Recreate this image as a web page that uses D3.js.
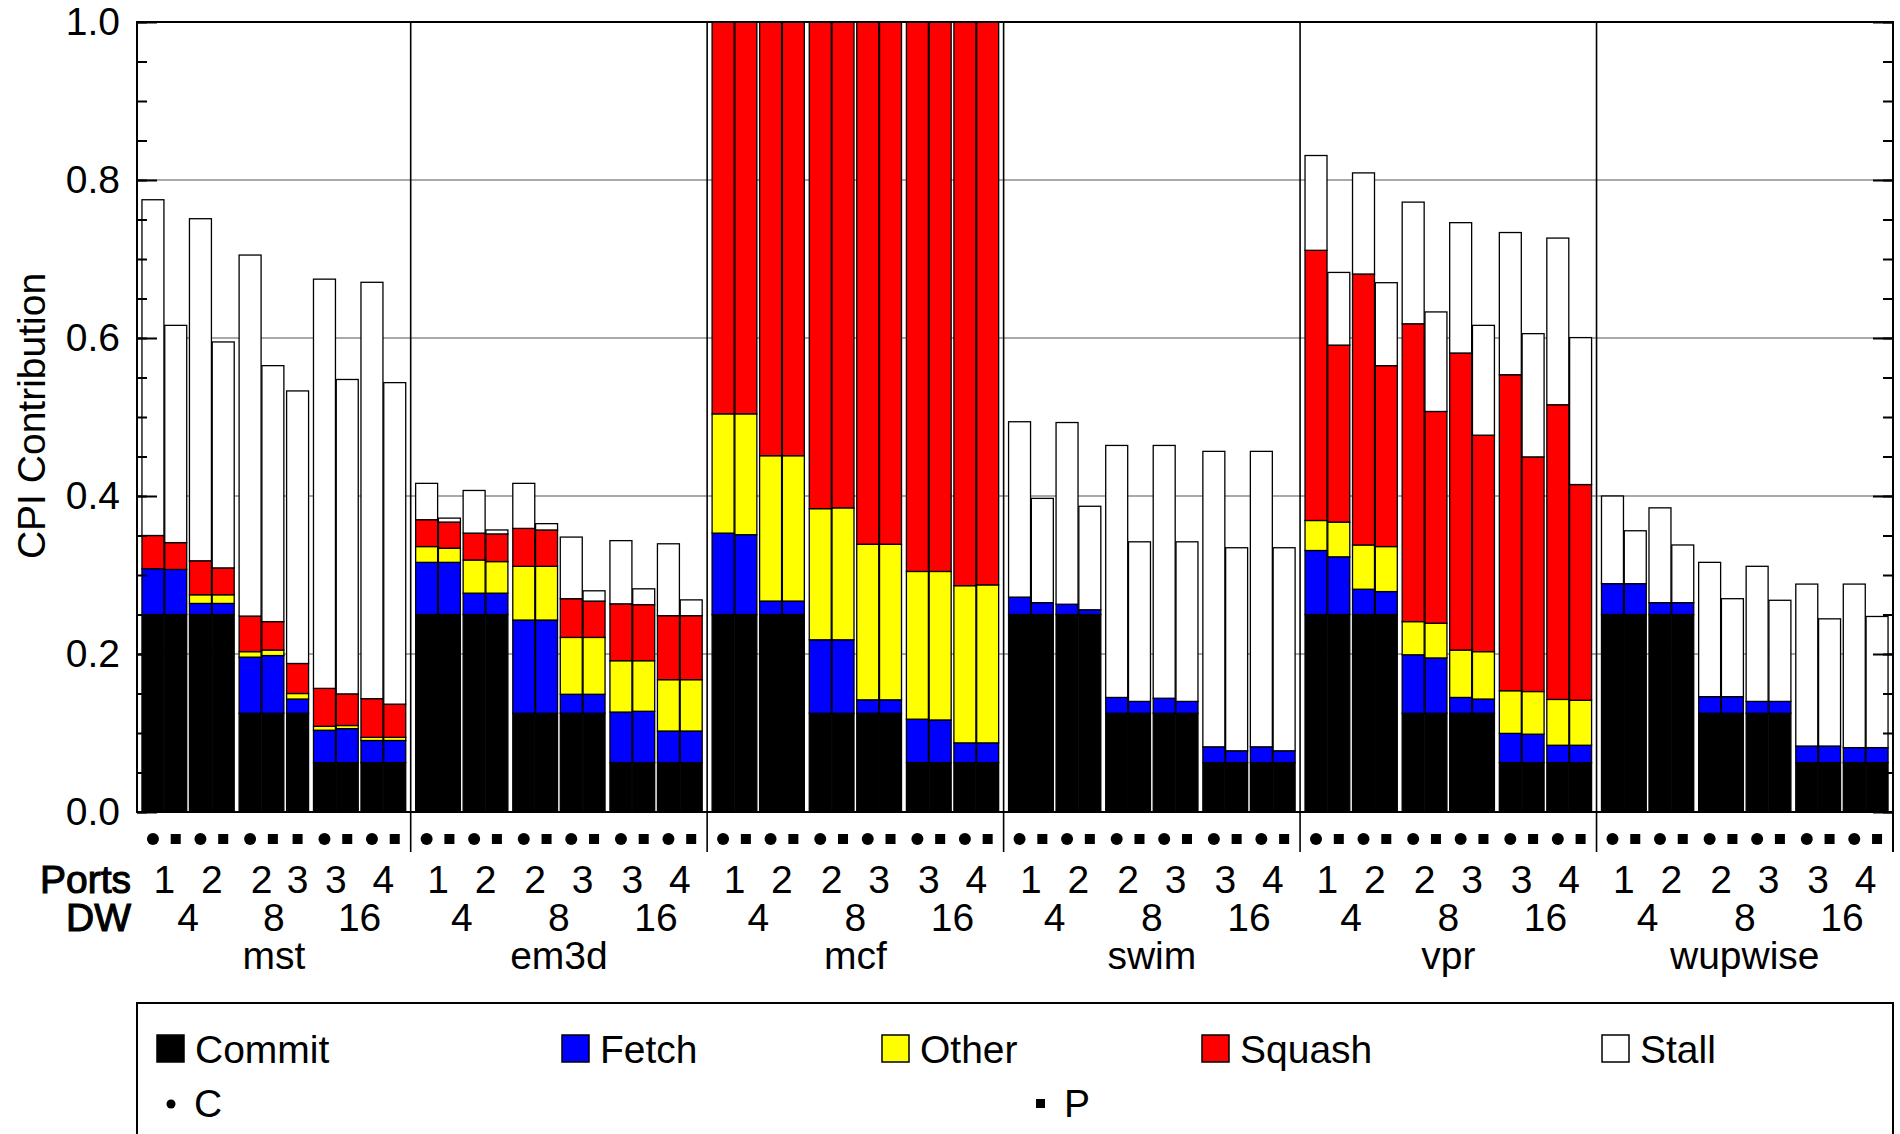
<!DOCTYPE html>
<html><head><meta charset="utf-8">
<script src="https://cdn.jsdelivr.net/npm/d3@7"></script>
<style>
body{margin:0;background:#fff}
text{font-family:"Liberation Sans",Arial,Helvetica,sans-serif;fill:#000}
</style>
</head><body>
<svg id="chart" width="1900" height="1134"></svg>
<script>
// ---------------- DATA ----------------
const benchmarks = ["mst","em3d","mcf","swim","vpr","wupwise"];
const configPorts = [1,2,2,3,3,4];
const configDW    = [4,4,8,8,16,16];
const designs = ["C","P"];
const missingBars = ["mst-3-C"];           // (benchmark - config index - design) not present
const seriesNames  = ["Commit","Fetch","Other","Squash","Stall"];
const seriesColors = ["#000000","#0000ff","#ffff00","#ff0000","#ffffff"];
const yTickValues = [0,0.2,0.4,0.6,0.8,1.0];

// per-bar values, in order: benchmark, config, design
const commit = [
  0.25,0.25,0.25,0.25,0.125,0.125,0.125,0.0625,0.0625,0.0625,0.0625,
  0.25,0.25,0.25,0.25,0.125,0.125,0.125,0.125,0.0625,0.0625,0.0625,0.0625,
  0.25,0.25,0.25,0.25,0.125,0.125,0.125,0.125,0.0625,0.0625,0.0625,0.0625,
  0.25,0.25,0.25,0.25,0.125,0.125,0.125,0.125,0.0625,0.0625,0.0625,0.0625,
  0.25,0.25,0.25,0.25,0.125,0.125,0.125,0.125,0.0625,0.0625,0.0625,0.0625,
  0.25,0.25,0.25,0.25,0.125,0.125,0.125,0.125,0.0625,0.0625,0.0625,0.0625
];
const fetch = [
  0.058,0.057,0.014,0.014,0.071,0.073,0.018,0.041,0.043,0.028,0.028,
  0.066,0.066,0.027,0.027,0.118,0.118,0.024,0.024,0.064,0.065,0.040,0.040,
  0.103,0.101,0.017,0.017,0.093,0.093,0.017,0.017,0.055,0.054,0.025,0.025,
  0.022,0.015,0.013,0.006,0.020,0.015,0.019,0.015,0.020,0.015,0.020,0.015,
  0.081,0.073,0.032,0.029,0.074,0.070,0.020,0.018,0.037,0.036,0.022,0.022,
  0.039,0.039,0.015,0.015,0.021,0.021,0.015,0.015,0.021,0.021,0.019,0.019
];
const other = [
  0,0,0.011,0.011,0.007,0.007,0.007,0.005,0.004,0.004,0.004,
  0.020,0.018,0.042,0.040,0.068,0.068,0.072,0.072,0.065,0.064,0.065,0.065,
  0.151,0.153,0.184,0.184,0.166,0.167,0.197,0.197,0.187,0.188,0.199,0.200,
  0,0,0,0,0,0,0,0,0,0,0,0,
  0.038,0.044,0.056,0.057,0.042,0.044,0.060,0.060,0.054,0.054,0.058,0.057,
  0,0,0,0,0,0,0,0,0,0,0,0
];
const squash = [
  0.042,0.034,0.043,0.034,0.045,0.036,0.038,0.048,0.040,0.049,0.042,
  0.034,0.033,0.034,0.035,0.048,0.046,0.049,0.046,0.072,0.071,0.081,0.081,
  0.496,0.496,0.549,0.549,0.616,0.615,0.661,0.661,0.696,0.696,0.713,0.713,
  0,0,0,0,0,0,0,0,0,0,0,0,
  0.342,0.224,0.343,0.229,0.377,0.268,0.376,0.274,0.400,0.297,0.373,0.273,
  0,0,0,0,0,0,0,0,0,0,0,0
];
const stall = [
  0.425,0.275,0.433,0.286,0.457,0.324,0.345,0.518,0.398,0.527,0.407,
  0.046,0.005,0.054,0.005,0.057,0.008,0.078,0.013,0.080,0.020,0.091,0.020,
  0,0,0,0,0,0,0,0,0,0,0,0,
  0.222,0.132,0.230,0.131,0.319,0.202,0.320,0.202,0.374,0.257,0.374,0.257,
  0.120,0.092,0.128,0.105,0.154,0.126,0.165,0.139,0.180,0.156,0.211,0.186,
  0.111,0.067,0.120,0.073,0.170,0.124,0.171,0.128,0.205,0.161,0.207,0.166
];

// ---------------- LAYOUT ----------------
const L = 137, R = 1893, T = 22, B = 812;
const FS = 39;
const svg = d3.select("#chart");

const PAD = 0.2, CFG_GAP = 0.085, DW_GAP = 0.18;
const bars = [], groups = [];
let cursor = 0, idx = 0;
benchmarks.forEach((bm) => {
  const g = {name: bm, start: cursor, configs: []};
  let pos = PAD;
  configPorts.forEach((p, ci) => {
    if (ci > 0) pos += (configDW[ci] !== configDW[ci-1]) ? DW_GAP : CFG_GAP;
    const cfg = {ports: p, dw: configDW[ci], bars: []};
    designs.forEach((d) => {
      if (missingBars.includes(`${bm}-${ci}-${d}`)) return;
      const b = {bm, ci, design: d, u0: cursor + pos,
        Commit: commit[idx], Fetch: fetch[idx], Other: other[idx], Squash: squash[idx], Stall: stall[idx]};
      idx++;
      bars.push(b); cfg.bars.push(b);
      pos += 1;
    });
    g.configs.push(cfg);
  });
  pos += PAD;
  g.end = cursor + pos;
  cursor = g.end;
  groups.push(g);
});
const totalUnits = cursor;

const x = d3.scaleLinear().domain([0, totalUnits]).range([L, R]);
const y = d3.scaleLinear().domain([0, 1]).range([B, T]);

svg.append("defs").append("clipPath").attr("id","plotclip")
  .append("rect").attr("x", L).attr("y", T).attr("width", R-L).attr("height", B-T);

// gridlines
svg.append("g").selectAll("line").data([0.2,0.4,0.6,0.8]).join("line")
  .attr("x1", L).attr("x2", R).attr("y1", d => y(d)).attr("y2", d => y(d))
  .attr("stroke", "#8c8c8c").attr("stroke-width", 1.5);

// stacked bars
const stacked = d3.stack().keys(seriesNames)(bars);
const barG = svg.append("g").attr("clip-path","url(#plotclip)");
stacked.forEach((layer, si) => {
  barG.append("g").selectAll("rect")
    .data(layer.filter(s => s[1] - s[0] > 0))
    .join("rect")
    .attr("x", s => x(s.data.u0) + 0.4)
    .attr("width", s => x(s.data.u0 + 1) - x(s.data.u0) - 0.8)
    .attr("y", s => y(s[1]))
    .attr("height", s => y(s[0]) - y(s[1]))
    .attr("fill", seriesColors[si])
    .attr("stroke", "#000").attr("stroke-width", 1.3);
});

// frame
svg.append("rect").attr("x", L).attr("y", T).attr("width", R-L).attr("height", B-T)
  .attr("fill","none").attr("stroke","#000").attr("stroke-width",2);

// group separators
svg.append("g").selectAll("line").data(groups.slice(1)).join("line")
  .attr("x1", g => x(g.start)).attr("x2", g => x(g.start))
  .attr("y1", T).attr("y2", 852)
  .attr("stroke","#000").attr("stroke-width",1.6);
svg.append("line").attr("x1", R).attr("x2", R).attr("y1", T).attr("y2", 852)
  .attr("stroke","#000").attr("stroke-width",2);

// axes (ticks inward)
const minorVals = d3.range(0, 1.0001, 0.05);
const axL = svg.append("g").attr("transform",`translate(${L},0)`)
  .call(d3.axisLeft(y).tickValues(yTickValues).tickSize(-20).tickPadding(17).tickFormat(d3.format(".1f")));
axL.select(".domain").remove();
axL.selectAll("line").attr("stroke-width",2);
axL.selectAll("text").style("font-size", FS+"px").style("font-family",'"Liberation Sans",Arial,sans-serif');
const axLm = svg.append("g").attr("transform",`translate(${L},0)`)
  .call(d3.axisLeft(y).tickValues(minorVals).tickSize(-10).tickFormat(""));
axLm.select(".domain").remove(); axLm.selectAll("line").attr("stroke-width",2);
const axR = svg.append("g").attr("transform",`translate(${R},0)`)
  .call(d3.axisRight(y).tickValues(yTickValues).tickSize(-20).tickFormat(""));
axR.select(".domain").remove(); axR.selectAll("line").attr("stroke-width",2);
const axRm = svg.append("g").attr("transform",`translate(${R},0)`)
  .call(d3.axisRight(y).tickValues(minorVals).tickSize(-10).tickFormat(""));
axRm.select(".domain").remove(); axRm.selectAll("line").attr("stroke-width",2);

// y title
svg.append("text").attr("transform","translate(45,416) rotate(-90)")
  .attr("text-anchor","middle").style("font-size", FS+"px").text("CPI Contribution");

// design markers
const MY = 839;
const bc = b => x(b.u0 + 0.5);
svg.append("g").selectAll("circle").data(bars.filter(b => b.design === "C")).join("circle")
  .attr("cx", bc).attr("cy", MY).attr("r", 6).attr("fill","#000");
svg.append("g").selectAll("rect").data(bars.filter(b => b.design === "P")).join("rect")
  .attr("x", b => bc(b) - 5).attr("y", MY - 5).attr("width", 10).attr("height", 10).attr("fill","#000");

// x labels
const labG = svg.append("g").style("font-size", FS+"px").attr("text-anchor","middle");
groups.forEach(g => {
  g.configs.forEach(c => {
    const cx = d3.mean(c.bars, b => bc(b));
    labG.append("text").attr("x", cx).attr("y", 893).text(c.ports);
  });
  [4,8,16].forEach(dw => {
    const bb = g.configs.filter(c => c.dw === dw).flatMap(c => c.bars);
    const cx = (x(bb[0].u0) + x(bb[bb.length-1].u0 + 1)) / 2;
    labG.append("text").attr("x", cx).attr("y", 931).text(dw);
  });
  labG.append("text").attr("x", (x(g.start) + x(g.end)) / 2).attr("y", 969).text(g.name);
});
svg.append("text").attr("x", 131).attr("y", 893).attr("text-anchor","end")
  .style("font-size", FS+"px").attr("stroke","#000").attr("stroke-width",1.1).text("Ports");
svg.append("text").attr("x", 131).attr("y", 931).attr("text-anchor","end")
  .style("font-size", FS+"px").attr("stroke","#000").attr("stroke-width",1.1).text("DW");

// legend
svg.append("rect").attr("x", L).attr("y", 1003).attr("width", R-L).attr("height", 200)
  .attr("fill","#fff").attr("stroke","#000").attr("stroke-width",2);
const legX = [157, 562, 882, 1202, 1602];
const leg = svg.append("g").selectAll("g").data(seriesNames).join("g")
  .attr("transform", (d,i) => `translate(${legX[i]},1035)`);
leg.append("rect").attr("width",27).attr("height",27)
  .attr("fill",(d,i) => seriesColors[i]).attr("stroke","#000").attr("stroke-width",1.5);
leg.append("text").attr("x",38).attr("y",28).style("font-size", FS+"px").text(d => d);
svg.append("circle").attr("cx",171).attr("cy",1104).attr("r",4.5).attr("fill","#000");
svg.append("text").attr("x",194).attr("y",1117).style("font-size", FS+"px").text("C");
svg.append("rect").attr("x",1036).attr("y",1099).attr("width",9).attr("height",9).attr("fill","#000");
svg.append("text").attr("x",1064).attr("y",1117).style("font-size", FS+"px").text("P");
</script>
</body></html>
